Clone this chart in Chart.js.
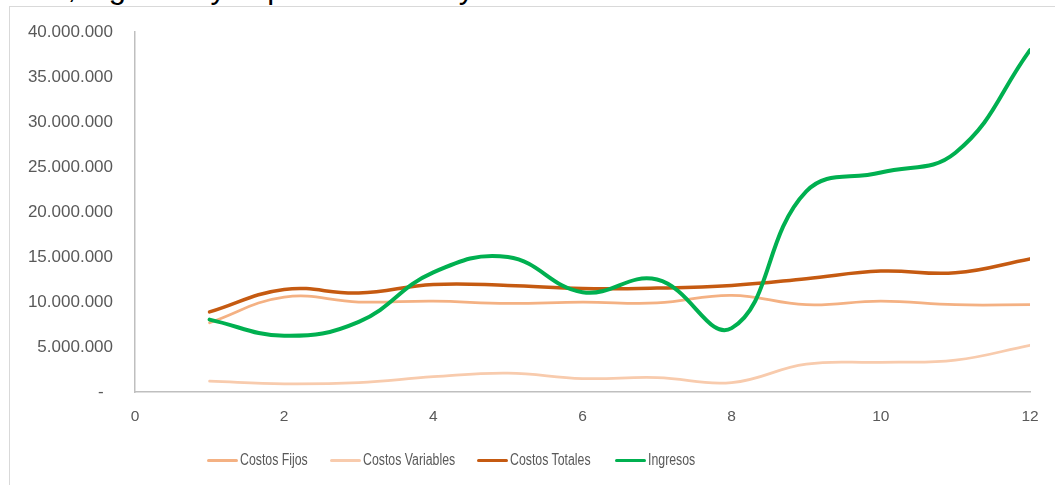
<!DOCTYPE html>
<html>
<head>
<meta charset="utf-8">
<script src="https://cdn.jsdelivr.net/npm/chart.js@4"></script>
<style>
  html, body { margin: 0; padding: 0; background: #fff; overflow: hidden; }
  body { width: 1055px; height: 485px; position: relative; }
  #caption {
    position: absolute; left: -29px; top: -28px; white-space: nowrap;
    font-family: "Liberation Sans", Arial, sans-serif; font-size: 31px; line-height: 31px; color: #000;
  }
  #frame {
    position: absolute; left: 9px; top: 6px; width: 1100px; height: 500px;
    border-left: 1.5px solid #d9d9d9; border-top: 1.5px solid #d9d9d9;
  }
  #wrap { position: absolute; left: 0; top: 0; width: 1055px; height: 485px; }
  #legend { position: absolute; left: 0; top: 450px; height: 20px; width: 1055px; }
  .item { position: absolute; top: 0; height: 20px; }
  .swatch { position: absolute; left: 0; top: 8.5px; width: 31px; height: 3px; border-radius: 1.5px; }
  .label {
    position: absolute; left: 33px; top: 0; line-height: 20px; white-space: nowrap;
    font-family: "Liberation Sans", Arial, sans-serif; font-size: 16px; color: #595959;
    transform: scaleX(0.77); transform-origin: 0 50%;
  }
</style>
</head>
<body>
<div id="caption">Costos, ingresos y el punto muerto y beneficio</div>
<div id="frame"></div>
<div id="wrap"><canvas id="chart" width="1055" height="485"></canvas></div>
<div id="legend"></div>
<script>
// Periods (months) on the horizontal axis
const periodos = [1, 2, 3, 4, 5, 6, 7, 8, 9, 10, 11, 12];

// Series values
const costosFijos      = [7700000, 10550000, 10000000, 10100000, 9850000, 10000000, 9900000, 10750000, 9700000, 10100000, 9700000, 9700000];
const costosVariables  = [1200000, 900000, 1050000, 1700000, 2100000, 1500000, 1600000, 1050000, 3100000, 3300000, 3550000, 5200000];
const costosTotales    = [8900000, 11400000, 11000000, 11950000, 11850000, 11500000, 11550000, 11850000, 12600000, 13450000, 13250000, 14800000];
const ingresos         = [8050000, 6250000, 7800000, 13300000, 15000000, 11100000, 12500000, 7100000, 22300000, 24400000, 26600000, 38000000];

// Axis ticks
const xTicks = [0, 2, 4, 6, 8, 10, 12];
const yTicks = [0, 5000000, 10000000, 15000000, 20000000, 25000000, 30000000, 35000000, 40000000];

const seriesNames = ["Costos Fijos", "Costos Variables", "Costos Totales", "Ingresos"];
const seriesColors = ["#F4B183", "#F8CBAD", "#C55A11", "#00B050"];
const seriesWidths = [2.75, 2.75, 3.5, 4];
const seriesValues = [costosFijos, costosVariables, costosTotales, ingresos];
// Left edge of each legend entry
const legendLeft = [207, 330, 477, 615];

const fmtMiles = v => v === 0 ? "-  " : String(v).replace(/\B(?=(\d{3})+(?!\d))/g, ".");

const datasets = seriesNames.map((name, i) => ({
  label: name,
  data: periodos.map((p, k) => ({ x: p, y: seriesValues[i][k] })),
  borderColor: seriesColors[i],
  backgroundColor: seriesColors[i],
  borderWidth: seriesWidths[i],
  pointRadius: 0,
  pointHoverRadius: 0,
  tension: 0.42,
  fill: false,
  order: seriesNames.length - 1 - i,
  borderCapStyle: "round",
  borderJoinStyle: "round"
}));

// Legend: line swatch + condensed label for each series
const legendEl = document.getElementById("legend");
seriesNames.forEach((name, i) => {
  const item = document.createElement("div");
  item.className = "item";
  item.style.left = legendLeft[i] + "px";
  const sw = document.createElement("div");
  sw.className = "swatch";
  sw.style.background = seriesColors[i];
  const lb = document.createElement("div");
  lb.className = "label";
  lb.textContent = name;
  item.appendChild(sw);
  item.appendChild(lb);
  legendEl.appendChild(item);
});

new Chart(document.getElementById("chart"), {
  type: "line",
  data: { datasets },
  options: {
    responsive: false,
    animation: false,
    events: [],
    layout: { padding: { left: 0, right: 25, top: 31, bottom: 0 } },
    plugins: {
      tooltip: { enabled: false },
      legend: { display: false }
    },
    scales: {
      x: {
        type: "linear",
        min: 0,
        max: 12,
        afterBuildTicks: s => { s.ticks = xTicks.map(v => ({ value: v })); },
        afterFit: s => { s.height = 93; },
        grid: { display: false, drawTicks: false },
        border: { display: true, color: "#BFBFBF", width: 1.5 },
        ticks: {
          color: "#595959",
          padding: 15,
          maxRotation: 0,
          font: { family: "'Liberation Sans', Arial, sans-serif", size: 15.5 }
        }
      },
      y: {
        type: "linear",
        min: 0,
        max: 40000000,
        afterBuildTicks: s => { s.ticks = yTicks.map(v => ({ value: v })); },
        afterFit: s => { s.width = 135; },
        grid: { display: false, drawTicks: false },
        border: { display: true, color: "#BFBFBF", width: 1.5 },
        ticks: {
          color: "#595959",
          padding: 22,
          callback: v => fmtMiles(v),
          font: { family: "'Liberation Sans', Arial, sans-serif", size: 17 }
        }
      }
    }
  }
});
</script>
</body>
</html>
